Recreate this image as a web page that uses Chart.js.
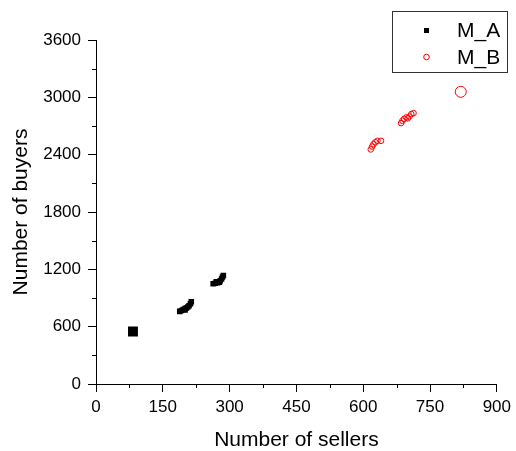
<!DOCTYPE html>
<html lang="en">
<head>
  <meta charset="UTF-8">
  <title>Sellers vs buyers</title>
  <script src="https://cdn.jsdelivr.net/npm/chart.js"></script>
  <style>
    body { margin: 0; background: #fff; }
    #wrap { width: 516px; height: 451px; }
  </style>
</head>
<body>
  <div id="wrap"><canvas id="scatterChart" width="516" height="451"></canvas></div>
  <script>
    // M_A series (black squares); first point is the large one
    const sellersA = [83, 188, 192, 196, 200, 203, 206, 209, 212, 214, 200, 263, 268, 273, 277, 279, 282, 284, 286, 270];
    const buyersA  = [550, 760, 770, 780, 790, 795, 805, 820, 840, 860, 775, 1050, 1055, 1060, 1065, 1080, 1100, 1120, 1135, 1070];
    // M_B series (red open circles); last point is the large one
    const sellersB = [617, 620, 623, 627, 632, 640, 685, 688, 692, 697, 700, 704, 708, 713, 819];
    const buyersB  = [2455, 2485, 2510, 2530, 2545, 2545, 2730, 2755, 2775, 2790, 2780, 2800, 2825, 2835, 3058];

    const xTicks = [0, 150, 300, 450, 600, 750, 900];
    const yTicks = [0, 600, 1200, 1800, 2400, 3000, 3600];
    const xMinor = [75, 225, 375, 525, 675, 825];
    const yMinor = [300, 900, 1500, 2100, 2700, 3300];

    const toPoints = (xs, ys) => xs.map((x, i) => ({ x: x, y: ys[i] }));

    const minorTicks = {
      id: 'minorTicks',
      afterDraw(chart) {
        const ctx = chart.ctx;
        const xs = chart.scales.x, ys = chart.scales.y;
        const area = chart.chartArea;
        ctx.save();
        ctx.strokeStyle = '#000';
        ctx.lineWidth = 1;
        ctx.beginPath();
        xMinor.forEach(v => {
          const px = Math.round(xs.getPixelForValue(v)) + 0.5;
          ctx.moveTo(px, area.bottom);
          ctx.lineTo(px, area.bottom + 4);
        });
        yMinor.forEach(v => {
          const py = Math.round(ys.getPixelForValue(v)) + 0.5;
          ctx.moveTo(area.left, py);
          ctx.lineTo(area.left - 4, py);
        });
        ctx.stroke();
        ctx.restore();
      }
    };

    const boxLegend = {
      id: 'boxLegend',
      afterDraw(chart) {
        const ctx = chart.ctx;
        ctx.save();
        ctx.strokeStyle = '#333';
        ctx.lineWidth = 1;
        ctx.fillStyle = '#fff';
        ctx.fillRect(392.5, 11.5, 115, 61);
        ctx.strokeRect(392.5, 11.5, 115, 61);
        // M_A marker
        ctx.fillStyle = '#000';
        ctx.fillRect(424, 28, 5, 5);
        // M_B marker
        ctx.strokeStyle = '#ff0000';
        ctx.beginPath();
        ctx.arc(426.5, 57, 2.8, 0, Math.PI * 2);
        ctx.stroke();
        ctx.fillStyle = '#000';
        ctx.font = '21px "Liberation Sans", Arial, sans-serif';
        ctx.textBaseline = 'middle';
        ctx.fillText(chart.data.datasets[0].label, 457, 31);
        ctx.fillText(chart.data.datasets[1].label, 457, 58);
        ctx.restore();
      }
    };

    const tickFont = { family: '"Liberation Sans", Arial, sans-serif', size: 17 };
    const titleFont = { family: '"Liberation Sans", Arial, sans-serif', size: 21, lineHeight: 1 };

    new Chart(document.getElementById('scatterChart').getContext('2d'), {
      type: 'scatter',
      data: {
        datasets: [{
          label: 'M_A',
          data: toPoints(sellersA, buyersA),
          pointStyle: 'rect',
          backgroundColor: '#000',
          borderColor: '#000',
          borderWidth: 0,
          pointRadius: ctx => ctx.dataIndex === 0 ? 7 : 3.9,
        }, {
          label: 'M_B',
          data: toPoints(sellersB, buyersB),
          pointStyle: 'circle',
          backgroundColor: 'rgba(0,0,0,0)',
          borderColor: '#ff0000',
          borderWidth: 1,
          pointRadius: ctx => ctx.dataIndex === sellersB.length - 1 ? 5.5 : 2.8,
        }],
      },
      options: {
        responsive: false,
        animation: false,
        layout: { padding: { top: 40, right: 17, left: 0, bottom: 0 } },
        plugins: { legend: { display: false }, tooltip: { enabled: false } },
        scales: {
          x: {
            type: 'linear',
            min: 0, max: 900,
            afterBuildTicks: s => { s.ticks = xTicks.map(v => ({ value: v })); },
            afterFit: s => { s.height = 67; },
            grid: { drawOnChartArea: false, tickLength: 8, color: '#000' },
            border: { color: '#000', width: 1 },
            ticks: { font: tickFont, color: '#000', padding: 5, maxRotation: 0, callback: v => String(v) },
            title: { display: true, text: 'Number of sellers', font: titleFont, color: '#000', padding: { top: 0, bottom: 0 } },
          },
          y: {
            type: 'linear',
            min: 0, max: 3600,
            afterBuildTicks: s => { s.ticks = yTicks.map(v => ({ value: v })); },
            afterFit: s => { s.width = 96; },
            grid: { drawOnChartArea: false, tickLength: 8, color: '#000' },
            border: { color: '#000', width: 1 },
            ticks: { font: tickFont, color: '#000', padding: 7, callback: v => String(v) },
            title: { display: true, text: 'Number of buyers', font: titleFont, color: '#000', padding: { top: 11, bottom: 0 } },
          },
        },
      },
      plugins: [minorTicks, boxLegend],
    });
  </script>
</body>
</html>
